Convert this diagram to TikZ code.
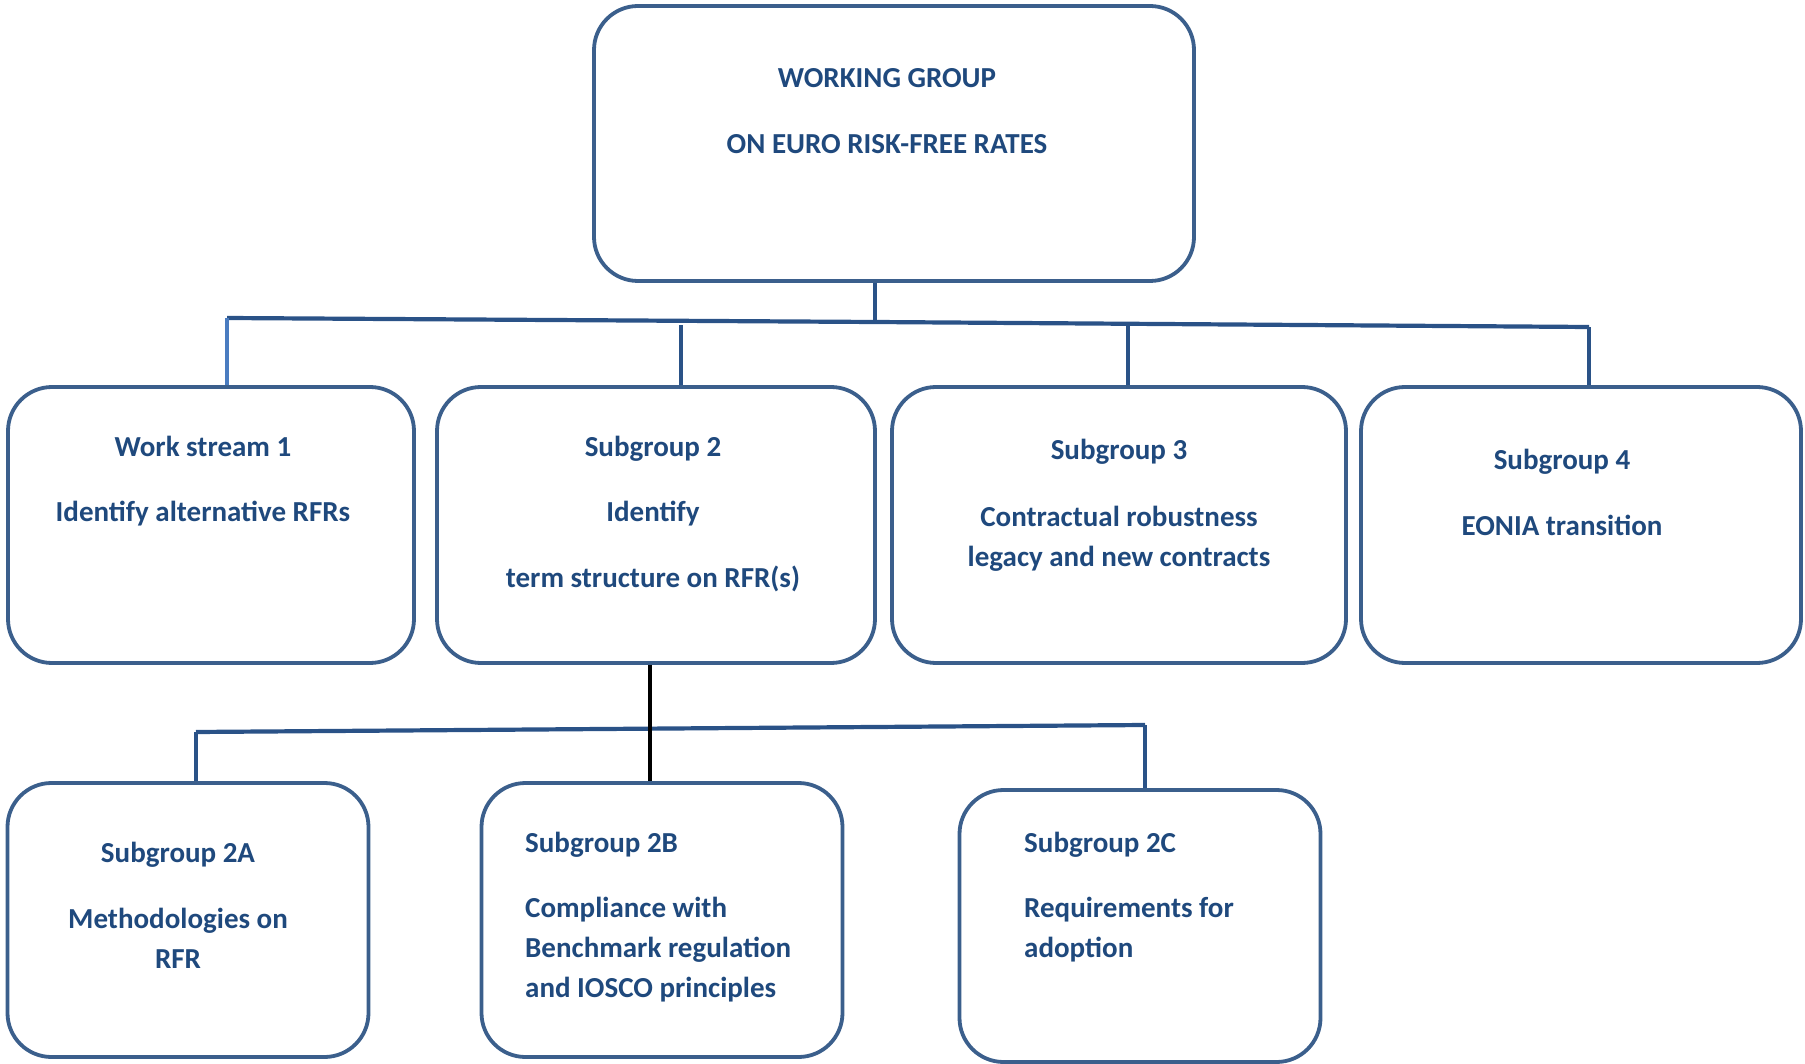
\documentclass[tikz,border=0pt]{standalone}
\usepackage{fontspec}
\setmainfont{Carlito}
\usepackage{tikz}
\usetikzlibrary{positioning}
\usetikzlibrary{calc}
\definecolor{boxline}{HTML}{3B5F8C}
\definecolor{txtblue}{HTML}{1F497D}
\definecolor{busline}{HTML}{2A5287}
\definecolor{lightbus}{HTML}{4A7CC0}
\tikzstyle{grp}  = [draw=boxline, line width=3.8pt, rounded corners=44pt, fill=white, inner sep=0pt]
\tikzstyle{row2} = [grp, minimum height=276pt]
\tikzstyle{row3} = [grp, minimum height=274pt, minimum width=361pt]
\tikzstyle{txt}  = [anchor=north, align=center, inner sep=0pt, text=txtblue, font=\fontsize{29}{40}\selectfont\bfseries]
\tikzstyle{ltxt} = [txt, anchor=north west, align=left]
\tikzstyle{bus}  = [draw=busline, line width=4.2pt]
\begin{document}
\begin{tikzpicture}[x=1pt, y=-1pt]
     \useasboundingbox (0,0) rectangle (1805,1064);
     % boxes
     \node[grp, minimum width=600pt, minimum height=275pt] (wg) at (894,143.5) {};
     \node[row2, minimum width=406pt] (ws1) at (211,525) {};
     \node[row2, minimum width=438pt] (sg2) at (656,525) {};
     \node[row2, minimum width=454pt] (sg3) at (1119,525) {};
     \node[row2, minimum width=440pt] (sg4) at (1581,525) {};
     \node[row3] (sg2a) at (188,920) {};
     \node[row3] (sg2b) at (662,920) {};
     \node[row3, minimum height=272pt] (sg2c) at (1140,926) {};
     % texts
     \node[txt] (wg-t) at (887,68) {WORKING GROUP\\[26pt]ON EURO RISK-FREE RATES};
     \node[txt] (ws1-t) at (203,436) {Work stream 1\\[25pt]Identify alternative RFRs};
     \node[txt] (sg2-t) at (653,436) {Subgroup 2\\[25pt]Identify\\[26pt]term structure on RFR(s)};
     \node[txt] (sg3-t) at (1119,439) {Subgroup 3\\[27pt]Contractual robustness\\legacy and new contracts};
     \node[txt] (sg4-t) at (1562,449) {Subgroup 4\\[26pt]EONIA transition};
     \node[txt] (sg2a-t) at (178,842) {Subgroup 2A\\[26pt]Methodologies on\\RFR};
     \node[ltxt] (sg2b-t) at (525,832) {Subgroup 2B\\[25pt]Compliance with\\Benchmark regulation\\and IOSCO principles};
     \node[ltxt] (sg2c-t) at (1024,832) {Subgroup 2C\\[25pt]Requirements for\\adoption};
     % first level connectors
     \coordinate (busL) at (227,318);
     \coordinate (busM) at (875,322);
     \coordinate (busR) at (1589,327);
     \coordinate (bus-sg2) at (681,325);
     \coordinate (bus-sg3) at (1128,324);
     \draw[bus] (wg.south -| busM) -- (busM);
     \draw[bus] (busL) -- (busM) -- (busR);
     \draw[bus, draw=lightbus] (ws1.north -| busL) -- (busL);
     \draw[bus] (sg2.north -| bus-sg2) -- (bus-sg2);
     \draw[bus] (sg3.north -| bus-sg3) -- (bus-sg3);
     \draw[bus] (sg4.north -| busR) -- (busR);
     % second level connectors
     \coordinate (bus2L) at (196,732);
     \coordinate (bus2M) at (650,728);
     \coordinate (bus2R) at (1145,725);
     \draw[bus] (bus2L) -- (bus2R);
     \draw[bus] (sg2a.north -| bus2L) -- (bus2L);
     \draw[bus] (sg2c.north -| bus2R) -- (bus2R);
     \draw[line width=4.5pt] (sg2.south -| bus2M) -- (sg2b.north -| bus2M);
\end{tikzpicture}
\end{document}
